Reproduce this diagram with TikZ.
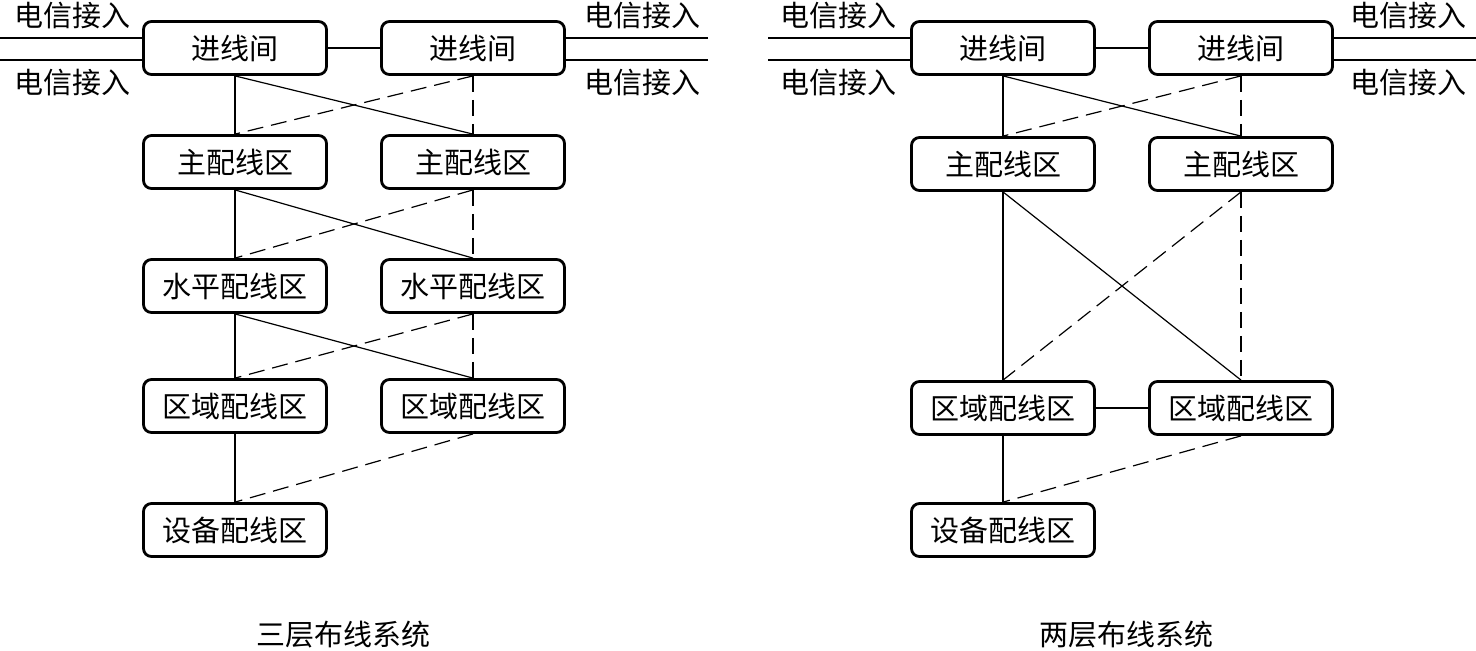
\documentclass[tikz,border=0pt]{standalone}
\usepackage{fontspec}
\newfontfamily\cjk{Noto Sans CJK SC}
\begin{document}
\begin{tikzpicture}[x=0.5pt,y=-0.5pt,
  box/.style={draw,line width=1.4pt,rounded corners=4pt,minimum width=91.5pt,minimum height=26.5pt,inner sep=0pt,font=\cjk\fontsize{14.5pt}{15pt}\selectfont},
  lbl/.style={inner sep=0pt,font=\cjk\fontsize{14.5pt}{15pt}\selectfont},
  conn/.style={line width=0.6pt},
  dconn/.style={line width=0.6pt,dash pattern=on 8pt off 4pt},
  thick1/.style={line width=1pt},
]
\useasboundingbox (0,0) rectangle (1476,650);
\fill[white] (0,0) rectangle (1476,650);
% ---------- left system ----------
\node[box] (a1) at (235,48) {进线间};
\node[box] (b1) at (473,48) {进线间};
\node[box] (a2) at (235,162) {主配线区};
\node[box] (b2) at (473,162) {主配线区};
\node[box] (a3) at (235,286) {水平配线区};
\node[box] (b3) at (473,286) {水平配线区};
\node[box] (a4) at (235,406) {区域配线区};
\node[box] (b4) at (473,406) {区域配线区};
\node[box] (a5) at (235,530) {设备配线区};
\coordinate (la1) at (0,38);
\coordinate (la2) at (0,60);
\coordinate (lb1) at (708,38);
\coordinate (lb2) at (708,60);
\draw[thick1] (la1) -- (la1 -| a1.west);
\draw[conn] (la2) -- (la2 -| a1.west);
\draw[thick1] (lb1) -- (lb1 -| b1.east);
\draw[conn] (lb2) -- (lb2 -| b1.east);
\draw[thick1] (a1) -- (b1);
\node[lbl] (t1) at (72,16) {电信接入};
\node[lbl] (t2) at (72,83) {电信接入};
\node[lbl] (t3) at (642,16) {电信接入};
\node[lbl] (t4) at (642,83) {电信接入};
\foreach \u/\v in {1/2,2/3,3/4}{
  \draw[conn] (a\u.south) -- (a\v.north);
  \draw[conn] (a\u.south) -- (b\v.north);
  \draw[dconn] (b\u.south) -- (a\v.north);
  \draw[dconn] (b\u.south) -- (b\v.north);
}
\draw[conn] (a4.south) -- (a5.north);
\draw[dconn] (b4.south) -- (a5.north);
\node[lbl] (cap1) at (343,635) {三层布线系统};
% ---------- right system ----------
\node[box] (c1) at (1003,48) {进线间};
\node[box] (d1) at (1241,48) {进线间};
\node[box] (c2) at (1003,164) {主配线区};
\node[box] (d2) at (1241,164) {主配线区};
\node[box] (c4) at (1003,408) {区域配线区};
\node[box] (d4) at (1241,408) {区域配线区};
\node[box] (c5) at (1003,530) {设备配线区};
\coordinate (lc1) at (768,38);
\coordinate (lc2) at (768,60);
\coordinate (ld1) at (1476,38);
\coordinate (ld2) at (1476,60);
\draw[thick1] (lc1) -- (lc1 -| c1.west);
\draw[conn] (lc2) -- (lc2 -| c1.west);
\draw[thick1] (ld1) -- (ld1 -| d1.east);
\draw[conn] (ld2) -- (ld2 -| d1.east);
\draw[thick1] (c1) -- (d1);
\node[lbl] (t5) at (838,16) {电信接入};
\node[lbl] (t6) at (838,83) {电信接入};
\node[lbl] (t7) at (1408,16) {电信接入};
\node[lbl] (t8) at (1408,83) {电信接入};
\foreach \u/\v in {1/2,2/4}{
  \draw[conn] (c\u.south) -- (c\v.north);
  \draw[conn] (c\u.south) -- (d\v.north);
  \draw[dconn] (d\u.south) -- (c\v.north);
  \draw[dconn] (d\u.south) -- (d\v.north);
}
\draw[conn] (c4) -- (d4);
\draw[conn] (c4.south) -- (c5.north);
\draw[dconn] (d4.south) -- (c5.north);
\node[lbl] (cap2) at (1126,635) {两层布线系统};
\end{tikzpicture}
\end{document}
